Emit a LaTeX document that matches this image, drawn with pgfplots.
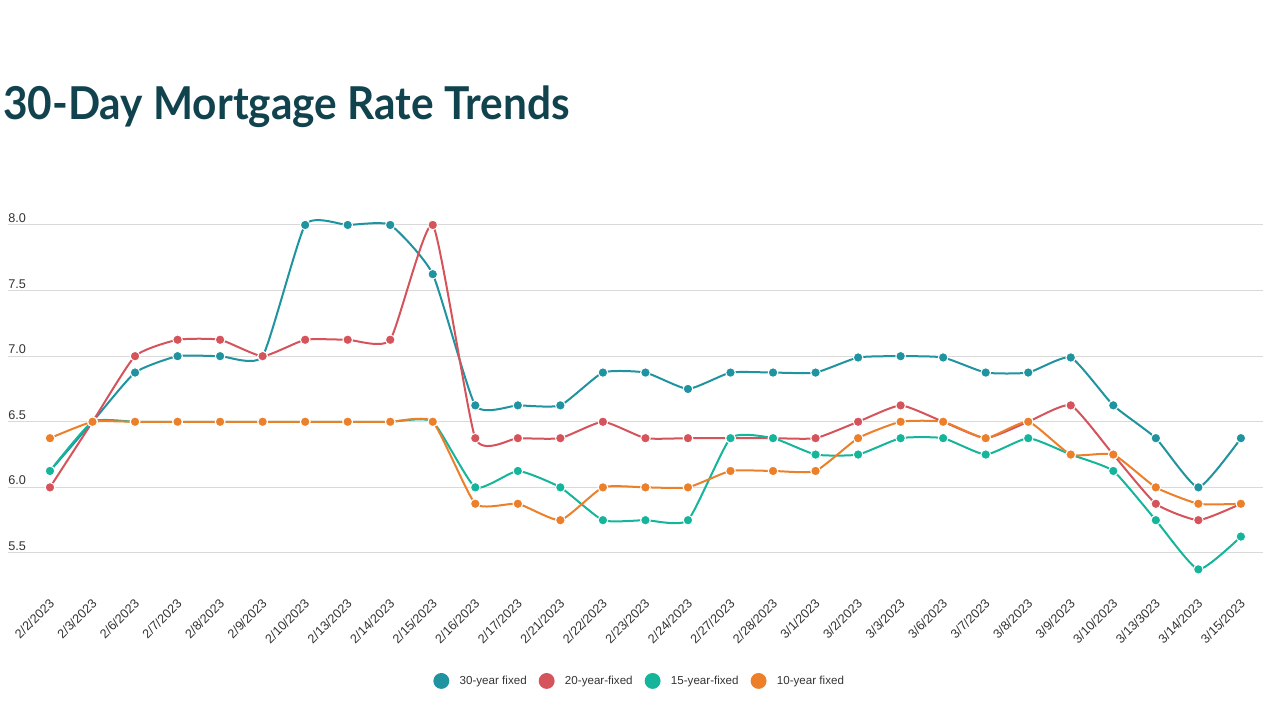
\documentclass[border=0pt]{standalone}
\usepackage{pgfplots}
\pgfplotsset{compat=1.18}
\usepackage{pgfplotstable}
\usepackage{fontspec}
\setmainfont{Liberation Sans}
\newfontfamily\titlefont{Lato}
\definecolor{c30}{HTML}{1F939F}
\definecolor{c20}{HTML}{D5535A}
\definecolor{c15}{HTML}{14B59A}
\definecolor{c10}{HTML}{EB7F2A}
\definecolor{ctitle}{HTML}{11434F}
\definecolor{cgrid}{HTML}{D9D9D9}
\definecolor{ctext}{HTML}{333333}
\pgfplotstableread{
x y30 y20 y15 y10
0 6.125 6.0 6.125 6.375
1 6.5 6.5 6.5 6.5
2 6.875 7.0 6.5 6.5
3 7.0 7.125 6.5 6.5
4 7.0 7.125 6.5 6.5
5 7.0 7.0 6.5 6.5
6 8.0 7.125 6.5 6.5
7 8.0 7.125 6.5 6.5
8 8.0 7.125 6.5 6.5
9 7.625 8.0 6.5 6.5
10 6.625 6.375 6.0 5.875
11 6.625 6.375 6.125 5.875
12 6.625 6.375 6.0 5.75
13 6.875 6.5 5.75 6.0
14 6.875 6.375 5.75 6.0
15 6.75 6.375 5.75 6.0
16 6.875 6.375 6.375 6.125
17 6.875 6.375 6.375 6.125
18 6.875 6.375 6.25 6.125
19 6.99 6.5 6.25 6.375
20 7.0 6.625 6.375 6.5
21 6.99 6.5 6.375 6.5
22 6.875 6.375 6.25 6.375
23 6.875 6.5 6.375 6.5
24 6.99 6.625 6.25 6.25
25 6.625 6.25 6.125 6.25
26 6.375 5.875 5.75 6.0
27 6.0 5.75 5.375 5.875
28 6.375 5.875 5.625 5.875
}\data
\begin{document}
\begin{tikzpicture}
\useasboundingbox (-6pt,-110.1pt) rectangle (954pt,434.4pt);
\begin{axis}[
  at={(0,0)}, anchor=south west,
  scale only axis, width=941.25pt, height=270.6pt,
  xmin=-0.987, xmax=28.52, ymin=5.3, ymax=8.05,
  clip=false,
  axis line style={draw=none},
  major tick length=0pt,
  ymajorgrids, grid style={draw=cgrid, line width=0.75pt},
  ytick={5.5,6,6.5,7,7.5,8},
  yticklabels={5.5,6.0,6.5,7.0,7.5,8.0},
  yticklabel style={anchor=base west, inner sep=0pt, yshift=1.8pt, font=\fontsize{9.5}{11}\selectfont, text=ctext},
  xtick={0,...,28},
  xticklabels={2/2/2023,2/3/2023,2/6/2023,2/7/2023,2/8/2023,2/9/2023,2/10/2023,2/13/2023,2/14/2023,2/15/2023,2/16/2023,2/17/2023,2/21/2023,2/22/2023,2/23/2023,2/24/2023,2/27/2023,2/28/2023,3/1/2023,3/2/2023,3/3/2023,3/6/2023,3/7/2023,3/8/2023,3/9/2023,3/10/2023,3/13/3023,3/14/2023,3/15/2023},
  xticklabel style={xshift=1.5pt, yshift=-16.5pt, rotate=45, anchor=east, inner sep=0pt, font=\fontsize{9.5}{11}\selectfont, text=ctext},
  every axis plot/.append style={line width=1.5pt, smooth, tension=0.3, mark=*, mark size=3.6pt, mark options={draw=white, line width=0.75pt}},
  legend columns=4,
  legend style={at={(axis description cs:0.5036,-0.282)}, anchor=center, draw=none, fill=none, font=\fontsize{8.7}{11}\selectfont, text=ctext,
    /tikz/every even column/.append style={column sep=7pt}},
  legend image code/.code={\fill[#1] (0pt,0pt) circle (5.2pt); \path (11pt,0pt);},
]
\addplot[color=c30] table[x=x,y=y30]{\data};
\addlegendentry{30-year fixed}
\addplot[color=c20] table[x=x,y=y20]{\data};
\addlegendentry{20-year-fixed}
\addplot[color=c15] table[x=x,y=y15]{\data};
\addlegendentry{15-year-fixed}
\addplot[color=c10] table[x=x,y=y10]{\data};
\addlegendentry{10-year fixed}
\end{axis}
\node[anchor=base west, inner sep=0pt, font=\titlefont\bfseries\fontsize{34}{40}\selectfont, text=ctitle] at (-3.75pt,344.4pt) {\scalebox{0.935}[1]{30-Day Mortgage Rate Trends}};
\end{tikzpicture}
\end{document}
